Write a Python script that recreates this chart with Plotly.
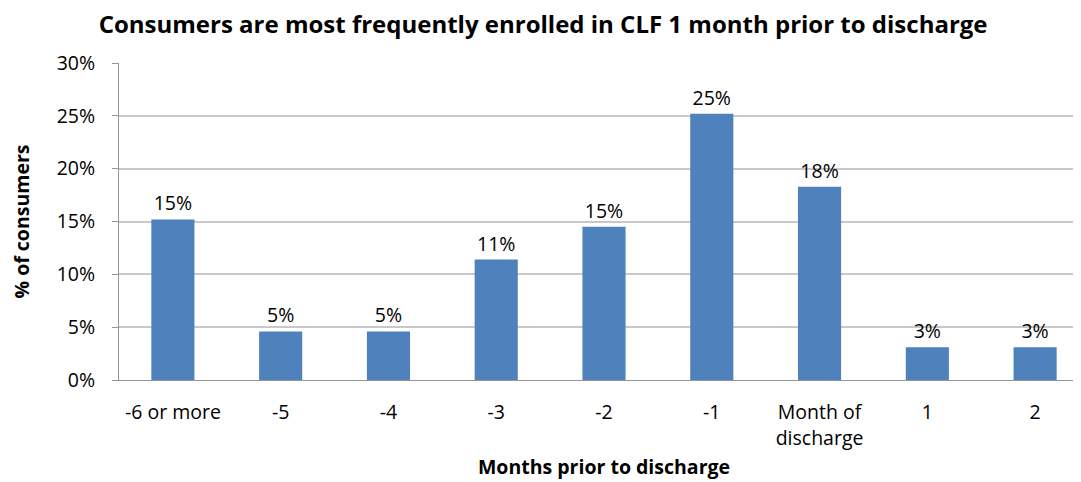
import plotly.graph_objects as go

categories = ["-6 or more", "-5", "-4", "-3", "-2", "-1", "Month of<br>discharge", "1", "2"]
values = [15.2, 4.6, 4.6, 11.4, 14.5, 25.2, 18.3, 3.1, 3.1]
labels = ["15%", "5%", "5%", "11%", "15%", "25%", "18%", "3%", "3%"]
y_ticks = [0, 5, 10, 15, 20, 25, 30]
y_tick_text = ["0%", "5%", "10%", "15%", "20%", "25%", "30%"]

FONT = "Open Sans"
FS = 19.5

fig = go.Figure(go.Bar(
    x=list(range(len(categories))),
    y=values,
    text=labels,
    textposition="outside",
    textfont=dict(family=FONT, size=FS, color="#000000"),
    marker=dict(color="#4F81BD", line=dict(color="#4F81BD", width=0)),
    cliponaxis=False,
))

fig.update_layout(
    width=1081, height=482,
    margin=dict(l=111, r=0, t=55, b=110),
    paper_bgcolor="white", plot_bgcolor="white",
    bargap=0.6,
    showlegend=False,
    title=dict(text="<b>Consumers are most frequently enrolled in CLF 1 month prior to discharge</b>",
               x=0.495, xref="container", xanchor="center",
               y=0.965, yref="container", yanchor="middle",
               font=dict(family=FONT, size=24, color="#000000")),
    font=dict(family=FONT, size=FS, color="#000000"),
)
fig.update_xaxes(
    range=[-0.5, 8.5],
    tickmode="array", tickvals=list(range(len(categories))), ticktext=categories,
    showline=True, linecolor="#969696", linewidth=1,
    showgrid=False, ticks="", ticklabelstandoff=15,
    tickfont=dict(family=FONT, size=FS),
    automargin=False,
    title=dict(text="<b>Months prior to discharge</b>", font=dict(family=FONT, size=FS), standoff=10),
)
fig.update_yaxes(
    range=[0, 30],
    tickmode="array", tickvals=y_ticks, ticktext=y_tick_text,
    showline=True, linecolor="#969696", linewidth=1,
    showgrid=True, gridcolor="#C8C8C8", gridwidth=1.5,
    ticks="outside", ticklen=6, tickcolor="#969696",
    ticklabelstandoff=13,
    tickfont=dict(family=FONT, size=FS),
    automargin=False,
    title=dict(text="<b>% of consumers</b>", font=dict(family=FONT, size=FS), standoff=26),
    zeroline=False,
)
fig.write_html("out.html")
